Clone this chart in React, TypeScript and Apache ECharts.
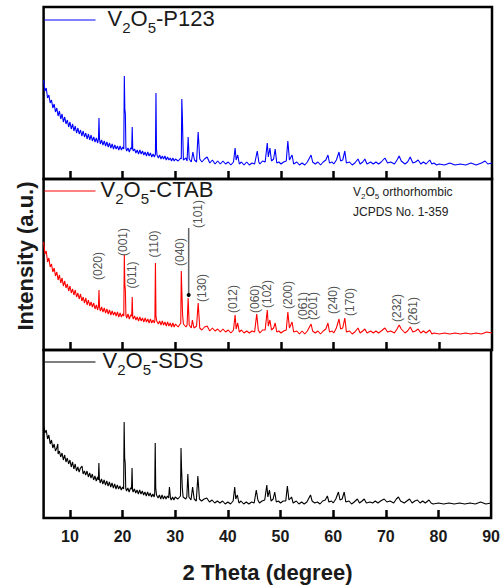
import React, { useEffect, useRef } from 'react';
import * as echarts from 'echarts';

const FONT = '"Liberation Sans", Arial, Helvetica, sans-serif';

// x axis (2 theta, degree)
const xMin = 5;
const xMax = 90;
const xTickValues = [10, 20, 30, 40, 50, 60, 70, 80];
const xLabelValues = [10, 20, 30, 40, 50, 60, 70, 80, 90];

const seriesNames = ['V2O5-P123', 'V2O5-CTAB', 'V2O5-SDS'];
const seriesColors = ['#0000ff', '#ff0000', '#000000'];
const panelMax = [172, 171, 168];

// [2theta, intensity (a.u.)]
const p123: number[][] = [
  [5.0, 99], [5.25, 88], [5.5, 91], [5.75, 81], [6.0, 84], [6.25, 76], [6.5, 79], [6.75, 71], [7.0, 75], [7.25, 67],
  [7.5, 71], [7.75, 63], [8.0, 68], [8.25, 60], [8.5, 65], [8.75, 57], [9.0, 62], [9.25, 55], [9.5, 59], [9.75, 52],
  [10.0, 57], [10.25, 50], [10.5, 55], [10.75, 48], [11.0, 53], [11.25, 46], [11.5, 51], [11.75, 45], [12.0, 49], [12.25, 43],
  [12.5, 48], [12.75, 42], [13.0, 46], [13.25, 40], [13.5, 45], [13.75, 39], [14.0, 44], [14.25, 38], [14.5, 42], [14.75, 37],
  [15.0, 41], [15.25, 36], [15.4, 40], [15.5, 61], [15.6, 40], [15.75, 35], [16.0, 39], [16.25, 34], [16.5, 38], [16.75, 33],
  [17.0, 37], [17.25, 32], [17.5, 36], [17.75, 31], [18.0, 35], [18.25, 30], [18.5, 34], [18.75, 30], [19.0, 33], [19.25, 29],
  [19.5, 33], [19.75, 29], [20.0, 32], [20.2, 30], [20.3, 103], [20.4, 70], [20.5, 65], [20.6, 31], [20.75, 28], [21.0, 31],
  [21.25, 27], [21.5, 31], [21.7, 30], [21.8, 52], [21.9, 30], [22.0, 28], [22.25, 30], [22.5, 26], [22.75, 29], [23.0, 25],
  [23.25, 29], [23.5, 25], [23.75, 28], [24.0, 24], [24.25, 27], [24.5, 23], [24.75, 27], [25.0, 23], [25.25, 26], [25.5, 22],
  [25.75, 25], [26.0, 22], [26.2, 25], [26.3, 86], [26.4, 30], [26.5, 24], [26.75, 21], [27.0, 24], [27.25, 20], [27.5, 23],
  [27.75, 20], [28.0, 23], [28.25, 19], [28.5, 22], [28.75, 19], [29.0, 21], [29.25, 18], [29.5, 21], [29.75, 18], [30.0, 20],
  [30.5, 18], [31.0, 21], [31.1, 20], [31.2, 80], [31.3, 64], [31.4, 40], [31.5, 19], [32.0, 21], [32.2, 18], [32.4, 42],
  [32.6, 20], [33.0, 17], [33.3, 27], [33.6, 19], [34.0, 17], [34.3, 47], [34.6, 20], [35.0, 17], [35.5, 20], [36.0, 22],
  [36.5, 16], [37.0, 19], [37.5, 15], [38.0, 18], [38.5, 15], [39.0, 18], [39.5, 15], [40.0, 17], [40.5, 14], [41.0, 17],
  [41.3, 31], [41.5, 19], [41.8, 24], [42.1, 15], [42.5, 17], [43.0, 14], [43.5, 17], [44.0, 14], [44.5, 16], [45.0, 15],
  [45.5, 28], [45.8, 17], [46.0, 15], [46.5, 18], [47.0, 17], [47.4, 36], [47.6, 22], [47.9, 31], [48.2, 18], [48.6, 20],
  [48.9, 30], [49.2, 16], [49.6, 17], [50.0, 15], [50.5, 17], [51.0, 18], [51.3, 38], [51.6, 19], [52.1, 24], [52.4, 15],
  [53.0, 17], [53.5, 14], [54.0, 16], [54.5, 14], [55.0, 17], [55.7, 24], [56.0, 17], [56.5, 15], [57.0, 17], [57.5, 14],
  [58.0, 17], [58.5, 19], [58.9, 24], [59.2, 16], [59.7, 17], [60.0, 15], [60.5, 19], [61.0, 27], [61.3, 18], [61.7, 19],
  [62.1, 28], [62.4, 16], [63.0, 17], [63.5, 14], [64.0, 16], [64.6, 20], [65.0, 15], [65.5, 17], [65.9, 20], [66.3, 15],
  [67.0, 17], [67.5, 15], [68.0, 17], [68.5, 15], [69.0, 17], [69.7, 21], [70.2, 16], [70.8, 17], [71.5, 15], [72.0, 19],
  [72.4, 23], [72.8, 18], [73.5, 15], [74.0, 17], [74.5, 22], [75.0, 16], [75.5, 17], [76.0, 19], [76.5, 15], [77.0, 17],
  [77.5, 15], [78.2, 19], [78.6, 15], [79.0, 16], [79.5, 14], [80.0, 15], [81.0, 14], [82.0, 16], [83.0, 14], [84.0, 15],
  [85.0, 14], [86.0, 16], [87.0, 14], [88.0, 16], [88.7, 18], [89.2, 15], [90.0, 16],
];

const ctab: number[][] = [
  [5.0, 108], [5.25, 96], [5.5, 99], [5.75, 88], [6.0, 92], [6.25, 83], [6.5, 86], [6.75, 78], [7.0, 82], [7.25, 74],
  [7.5, 78], [7.75, 70], [8.0, 75], [8.25, 67], [8.5, 72], [8.75, 64], [9.0, 69], [9.25, 62], [9.5, 66], [9.75, 59],
  [10.0, 64], [10.25, 57], [10.5, 61], [10.75, 55], [11.0, 60], [11.25, 53], [11.5, 57], [11.75, 51], [12.0, 56], [12.25, 49],
  [12.5, 53], [12.75, 47], [13.0, 52], [13.25, 45], [13.5, 50], [13.75, 44], [14.0, 48], [14.25, 43], [14.5, 47], [14.75, 41],
  [15.0, 45], [15.25, 40], [15.4, 44], [15.5, 60], [15.6, 43], [15.75, 39], [16.0, 43], [16.25, 38], [16.5, 42], [16.75, 37],
  [17.0, 41], [17.25, 36], [17.5, 40], [17.75, 35], [18.0, 39], [18.25, 35], [18.5, 38], [18.75, 34], [19.0, 38], [19.25, 33],
  [19.5, 37], [19.75, 33], [20.0, 36], [20.2, 34], [20.3, 95], [20.4, 66], [20.5, 60], [20.6, 35], [20.75, 32], [21.0, 36],
  [21.25, 31], [21.5, 35], [21.7, 34], [21.8, 53], [21.9, 33], [22.0, 31], [22.25, 34], [22.5, 30], [22.75, 33], [23.0, 29],
  [23.25, 33], [23.5, 29], [23.75, 32], [24.0, 28], [24.25, 32], [24.5, 28], [24.75, 31], [25.0, 27], [25.25, 31], [25.5, 27],
  [25.75, 30], [26.0, 27], [26.1, 30], [26.2, 87], [26.3, 34], [26.45, 29], [26.75, 26], [27.0, 29], [27.25, 25], [27.5, 29],
  [27.75, 25], [28.0, 28], [28.25, 24], [28.5, 28], [28.75, 24], [29.0, 27], [29.25, 23], [29.5, 27], [29.75, 23], [30.0, 26],
  [30.5, 23], [31.0, 27], [31.1, 79], [31.2, 60], [31.35, 35], [31.5, 26], [32.0, 23], [32.2, 25], [32.4, 52], [32.6, 25],
  [33.0, 22], [33.2, 30], [33.5, 22], [34.0, 24], [34.3, 47], [34.6, 22], [35.0, 20], [35.5, 23], [36.0, 24], [36.5, 19],
  [37.0, 22], [37.5, 19], [38.0, 21], [38.5, 18], [39.0, 21], [39.5, 18], [40.0, 20], [40.5, 17], [41.0, 20], [41.3, 35],
  [41.5, 21], [41.8, 27], [42.1, 18], [42.5, 20], [43.0, 17], [43.5, 19], [44.0, 17], [44.5, 19], [45.0, 18], [45.4, 36],
  [45.7, 20], [46.0, 17], [46.5, 20], [47.0, 20], [47.4, 40], [47.6, 24], [47.9, 30], [48.2, 20], [48.6, 22], [48.9, 27],
  [49.2, 18], [49.6, 19], [50.0, 17], [50.5, 19], [51.0, 20], [51.3, 38], [51.6, 22], [52.1, 28], [52.4, 18], [53.0, 19],
  [53.5, 16], [54.0, 19], [54.5, 16], [55.0, 19], [55.7, 26], [56.0, 19], [56.5, 17], [57.0, 19], [57.5, 16], [58.0, 19],
  [58.5, 21], [58.9, 27], [59.2, 18], [59.7, 19], [60.0, 17], [60.5, 22], [61.0, 31], [61.3, 21], [61.7, 22], [62.1, 32],
  [62.4, 18], [63.0, 19], [63.5, 16], [64.0, 18], [64.6, 22], [65.0, 17], [65.5, 19], [65.9, 21], [66.3, 17], [67.0, 19],
  [67.5, 17], [68.0, 19], [68.5, 17], [69.0, 19], [69.7, 22], [70.2, 18], [70.8, 19], [71.5, 17], [72.0, 21], [72.4, 25],
  [72.8, 21], [73.5, 17], [74.0, 19], [74.5, 23], [75.0, 18], [75.5, 19], [76.0, 21], [76.5, 17], [77.0, 19], [77.5, 17],
  [78.2, 20], [78.6, 16], [79.0, 17], [80.0, 16], [81.0, 17], [82.0, 16], [83.0, 17], [84.0, 16], [85.0, 17], [86.0, 16],
  [87.0, 17], [88.0, 16], [89.0, 18], [90.0, 17],
];

const sds: number[][] = [
  [5.0, 93], [5.25, 85], [5.5, 88], [5.75, 79], [6.0, 83], [6.25, 74], [6.5, 78], [6.75, 70], [7.0, 74], [7.25, 67],
  [7.5, 70], [7.7, 74], [7.75, 64], [8.0, 67], [8.25, 61], [8.5, 65], [8.75, 58], [9.0, 63], [9.25, 56], [9.5, 60],
  [9.75, 54], [10.0, 58], [10.25, 51], [10.5, 56], [10.75, 49], [11.0, 54], [11.25, 47], [11.5, 51], [11.75, 46], [12.0, 50],
  [12.3, 52], [12.5, 44], [12.75, 47], [13.0, 43], [13.25, 47], [13.5, 41], [13.75, 45], [14.0, 40], [14.25, 44], [14.5, 38],
  [14.75, 42], [15.0, 37], [15.25, 41], [15.4, 38], [15.5, 55], [15.6, 39], [15.75, 35], [16.0, 39], [16.25, 34], [16.5, 38],
  [16.75, 33], [17.0, 37], [17.25, 32], [17.5, 36], [17.75, 31], [18.0, 35], [18.25, 30], [18.5, 34], [18.75, 29], [19.0, 33],
  [19.25, 29], [19.5, 32], [19.75, 28], [20.0, 31], [20.2, 29], [20.3, 96], [20.4, 60], [20.5, 55], [20.6, 30], [20.75, 27],
  [21.0, 30], [21.25, 26], [21.5, 30], [21.7, 29], [21.8, 50], [21.9, 28], [22.0, 26], [22.25, 29], [22.5, 25], [22.75, 28],
  [23.0, 24], [23.25, 28], [23.5, 24], [23.75, 27], [24.0, 23], [24.25, 26], [24.5, 22], [24.75, 26], [25.0, 22], [25.25, 25],
  [25.5, 21], [25.75, 24], [26.0, 21], [26.1, 24], [26.2, 75], [26.3, 30], [26.45, 23], [26.75, 20], [27.0, 23], [27.25, 19],
  [27.5, 23], [27.75, 19], [28.0, 22], [28.25, 19], [28.5, 22], [28.75, 20], [28.9, 31], [29.1, 20], [29.25, 18], [29.5, 21],
  [29.75, 18], [30.0, 21], [30.5, 19], [31.0, 22], [31.1, 70], [31.2, 50], [31.35, 30], [31.5, 21], [32.0, 19], [32.2, 21],
  [32.4, 44], [32.6, 21], [33.0, 18], [33.3, 31], [33.6, 19], [34.0, 17], [34.3, 42], [34.6, 19], [35.0, 17], [35.5, 19],
  [36.0, 20], [36.5, 16], [37.0, 18], [37.5, 15], [38.0, 17], [38.5, 15], [39.0, 17], [39.5, 14], [40.0, 16], [40.5, 14],
  [41.0, 17], [41.3, 31], [41.5, 19], [41.8, 23], [42.1, 15], [42.5, 17], [43.0, 14], [43.5, 16], [44.0, 14], [44.5, 16],
  [45.0, 15], [45.4, 28], [45.7, 18], [46.0, 15], [46.5, 17], [47.0, 18], [47.4, 33], [47.6, 21], [47.9, 28], [48.2, 17],
  [48.6, 19], [48.9, 26], [49.2, 16], [49.6, 17], [50.0, 15], [50.5, 17], [51.0, 17], [51.3, 32], [51.6, 18], [52.1, 21],
  [52.4, 15], [53.0, 17], [53.5, 14], [54.0, 16], [54.5, 14], [55.0, 16], [55.7, 23], [56.0, 17], [56.5, 15], [57.0, 16],
  [57.5, 14], [58.0, 17], [58.5, 18], [58.9, 22], [59.2, 16], [59.7, 17], [60.0, 15], [60.5, 19], [61.0, 26], [61.3, 18],
  [61.7, 19], [62.1, 26], [62.4, 16], [63.0, 17], [63.5, 14], [64.0, 16], [64.6, 19], [65.0, 15], [65.5, 17], [65.9, 19],
  [66.3, 15], [67.0, 16], [67.5, 15], [68.0, 17], [68.5, 15], [69.0, 17], [69.7, 19], [70.2, 16], [70.8, 17], [71.5, 15],
  [72.0, 19], [72.4, 21], [72.8, 17], [73.5, 15], [74.0, 17], [74.5, 19], [75.0, 15], [75.5, 17], [76.0, 18], [76.5, 15],
  [77.0, 17], [77.5, 15], [78.2, 18], [78.6, 15], [79.0, 14], [80.0, 15], [81.0, 14], [82.0, 15], [83.0, 14], [84.0, 15],
  [85.0, 14], [86.0, 15], [87.0, 14], [88.0, 16], [89.0, 14], [90.0, 15],
];

// Miller index labels (CTAB panel): text and [2theta, height]
const peakLabels = ['(020)', '(001)', '(011)', '(110)', '(040)', '(101)', '(130)', '(012)', '(060)', '(102)', '(200)', '(061)', '(201)', '(240)', '(170)', '(232)', '(261)'];
const peakLabelPos: number[][] = [
  [15.3, 84], [20.1, 108], [21.7, 75], [26.0, 106], [30.9, 98], [34.2, 136], [35.1, 62], [40.9, 51], [45.1, 51],
  [47.4, 56], [51.3, 55], [54.2, 44], [56.1, 44], [59.9, 50], [63.1, 48], [72.0, 42], [75.0, 39],
];
// pointer line for (101)
const pointerLine: number[][] = [[32.5, 122], [32.5, 55]];

const legendPad = [7, 0, 2];

export default function App() {
  const ref = useRef<HTMLDivElement>(null);
  useEffect(() => {
    if (!ref.current) return;
    const chart = echarts.init(ref.current, null, { renderer: 'svg' });
    const gridBoxes = [
      { top: 7, height: 172 },
      { top: 179, height: 171 },
      { top: 350, height: 168 },
    ];
    const datasets = [p123, ctab, sds];
    const legendTops = [7, 178, 349];

    const option: any = {
      animation: false,
      backgroundColor: '#ffffff',
      grid: gridBoxes.map((g) => ({
        left: 43.6,
        right: 11,
        top: g.top,
        height: g.height,
        show: true,
        borderColor: '#000',
        borderWidth: 2.5,
        backgroundColor: 'transparent',
      })),
      xAxis: gridBoxes.map((_, i) => ({
        type: 'value',
        gridIndex: i,
        min: xMin,
        max: xMax,
        axisLine: { show: false },
        splitLine: { show: false },
        axisTick: {
          show: true,
          inside: true,
          length: 8,
          customValues: xTickValues,
          lineStyle: { color: '#000', width: 2.5 },
        },
        axisLabel: {
          show: i === 2,
          customValues: xLabelValues,
          margin: 10,
          fontSize: 16,
          fontWeight: 'bold',
          fontFamily: FONT,
          color: '#1a1a1a',
        },
      })),
      yAxis: gridBoxes.map((_, i) => ({
        type: 'value',
        gridIndex: i,
        min: 0,
        max: panelMax[i],
        show: false,
      })),
      legend: seriesNames.map((n, i) => ({
        data: [n],
        left: 44,
        top: legendTops[i],
        padding: 0,
        itemWidth: 51,
        itemHeight: 14,
        selectedMode: false,
        itemStyle: { opacity: 0, borderWidth: 0 },
        lineStyle: { width: 1 },
        formatter: () =>
          '{f|V}{s|2}{a|O}{s|5}{a|-' + n.split('-')[1] + '}',
        textStyle: {
          color: '#1a1a1a',
          rich: {
            f: { fontSize: 22, fontFamily: FONT, lineHeight: 26, verticalAlign: 'top', padding: [0, 0, 0, legendPad[i]], color: '#1a1a1a' },
            a: { fontSize: 22, fontFamily: FONT, lineHeight: 26, verticalAlign: 'top', color: '#1a1a1a' },
            s: { fontSize: 15, fontFamily: FONT, lineHeight: 15, verticalAlign: 'top', padding: [13, 0, 0, 0], color: '#1a1a1a' },
          },
        },
      })),
      series: [
        ...datasets.map((d, i) => ({
          name: seriesNames[i],
          type: 'line',
          xAxisIndex: i,
          yAxisIndex: i,
          data: d,
          symbol: 'none',
          showSymbol: false,
          lineStyle: { color: seriesColors[i], width: 1.1 },
          itemStyle: { color: seriesColors[i] },
          silent: true,
          z: 3,
        })),
        {
          name: 'pointer',
          type: 'line',
          xAxisIndex: 1,
          yAxisIndex: 1,
          data: [
            { value: pointerLine[0], symbol: 'none' },
            { value: pointerLine[1], symbol: 'circle', symbolSize: 4 },
          ],
          lineStyle: { color: '#666', width: 1.5 },
          itemStyle: { color: '#000' },
          showSymbol: true,
          silent: true,
          z: 4,
        },
        {
          name: 'hkl',
          type: 'scatter',
          xAxisIndex: 1,
          yAxisIndex: 1,
          symbolSize: 1,
          itemStyle: { color: 'rgba(0,0,0,0)' },
          data: peakLabels.map((t, i) => ({ name: t, value: peakLabelPos[i] })),
          label: {
            show: true,
            position: 'inside',
            rotate: 90,
            formatter: (p: any) => p.name,
            fontSize: 12,
            fontFamily: FONT,
            color: '#222',
          },
          silent: true,
          z: 5,
        },
      ],
      graphic: [
        {
          type: 'text',
          x: 25.5,
          y: 256,
          rotation: Math.PI / 2,
          style: {
            text: 'Intensity (a.u.)',
            font: 'bold 22px ' + FONT,
            fill: '#1a1a1a',
            align: 'center',
            verticalAlign: 'middle',
          },
        },
        {
          type: 'text',
          x: 267.5,
          y: 572,
          style: {
            text: '2 Theta (degree)',
            font: 'bold 22px ' + FONT,
            fill: '#1a1a1a',
            align: 'center',
            verticalAlign: 'middle',
          },
        },
        {
          type: 'text',
          x: 353,
          y: 193,
          style: {
            text: '{a|V}{s|2}{a|O}{s|5}{a| orthorhombic}',
            align: 'left',
            verticalAlign: 'middle',
            rich: {
              a: { fontSize: 12, fontFamily: FONT, lineHeight: 14, verticalAlign: 'top', fill: '#222', color: '#222' },
              s: { fontSize: 8, fontFamily: FONT, lineHeight: 8, verticalAlign: 'top', padding: [6, 0, 0, 0], fill: '#222', color: '#222' },
            },
          },
        },
        {
          type: 'text',
          x: 353,
          y: 212,
          style: {
            text: 'JCPDS No. 1-359',
            font: '12px ' + FONT,
            fill: '#222',
            align: 'left',
            verticalAlign: 'middle',
          },
        },
      ],
    };
    chart.setOption(option);
    return () => chart.dispose();
  }, []);
  return (
    <div
      ref={ref}
      style={{ position: 'fixed', left: 0, top: 0, width: 503, height: 587, background: '#fff' }}
    />
  );
}
